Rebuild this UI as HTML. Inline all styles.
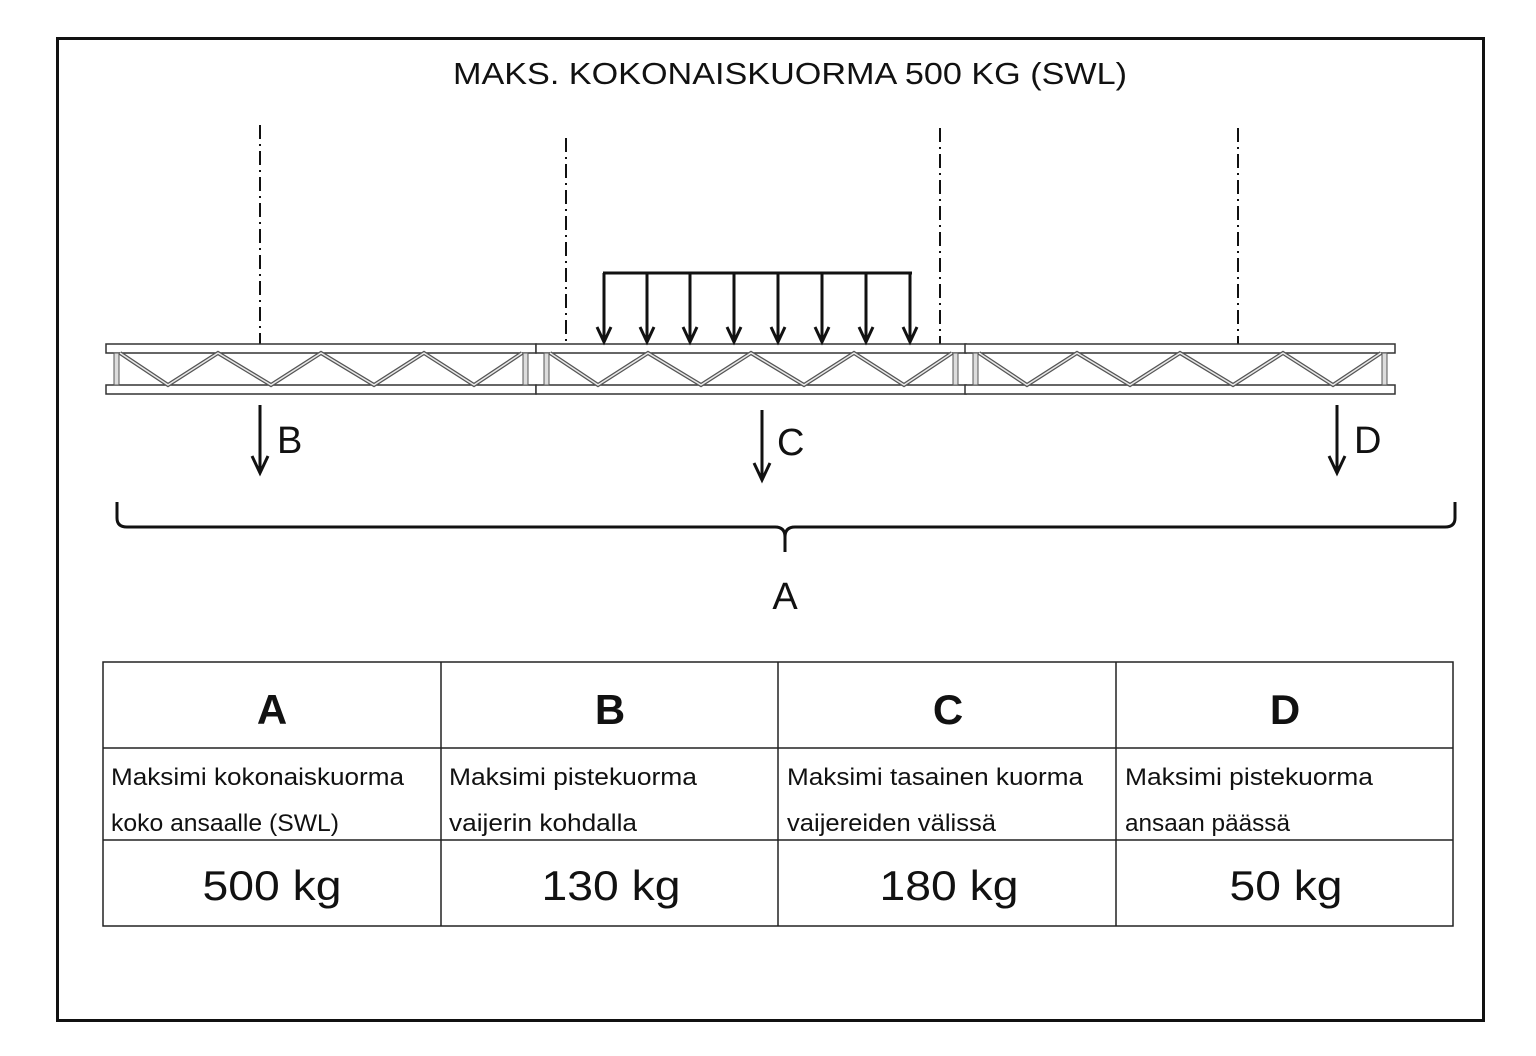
<!DOCTYPE html>
<html><head><meta charset="utf-8"><style>
html,body{margin:0;padding:0;background:#fff}
svg{display:block}
text{font-family:"Liberation Sans",sans-serif;fill:#111}
</style></head><body>
<svg width="1536" height="1056" viewBox="0 0 1536 1056" xmlns="http://www.w3.org/2000/svg">
<defs>
<g id="seg">
  <rect x="0" y="344" width="430" height="9" fill="#fff" stroke="#333" stroke-width="1.5"/>
  <rect x="0" y="385" width="430" height="9" fill="#fff" stroke="#333" stroke-width="1.5"/>
  <rect x="8" y="353" width="5" height="32" fill="#ddd" stroke="#555" stroke-width="1"/>
  <rect x="417" y="353" width="5" height="32" fill="#ddd" stroke="#555" stroke-width="1"/>
  <polyline points="14,353 62,385 112,353 165,385 215,353 268,385 318,353 368,385 416,353" fill="none" stroke="#555" stroke-width="4"/>
  <polyline points="14,353 62,385 112,353 165,385 215,353 268,385 318,353 368,385 416,353" fill="none" stroke="#e8e8e8" stroke-width="1.5"/>
</g>
</defs>
<rect x="57.5" y="38.5" width="1426" height="982" fill="none" stroke="#111" stroke-width="3"/>
<text x="790" y="84" font-size="31" text-anchor="middle" textLength="674" lengthAdjust="spacingAndGlyphs">MAKS. KOKONAISKUORMA 500 KG (SWL)</text>

<g stroke="#111" stroke-width="2" stroke-dasharray="14,5,2,5" fill="none">
  <line x1="260" y1="125" x2="260" y2="344"/>
  <line x1="566" y1="138" x2="566" y2="344"/>
  <line x1="940" y1="128" x2="940" y2="344"/>
  <line x1="1238" y1="128" x2="1238" y2="344"/>
</g>

<use href="#seg" x="106"/>
<use href="#seg" x="536"/>
<use href="#seg" x="965"/>

<g stroke="#111" stroke-width="3" fill="none">
  <line x1="603" y1="273" x2="912" y2="273"/>
  <line x1="604" y1="273" x2="604" y2="340"/><polyline points="597,327 604,342 611,327"/>
  <line x1="647" y1="273" x2="647" y2="340"/><polyline points="640,327 647,342 654,327"/>
  <line x1="690" y1="273" x2="690" y2="340"/><polyline points="683,327 690,342 697,327"/>
  <line x1="734" y1="273" x2="734" y2="340"/><polyline points="727,327 734,342 741,327"/>
  <line x1="778" y1="273" x2="778" y2="340"/><polyline points="771,327 778,342 785,327"/>
  <line x1="822" y1="273" x2="822" y2="340"/><polyline points="815,327 822,342 829,327"/>
  <line x1="866" y1="273" x2="866" y2="340"/><polyline points="859,327 866,342 873,327"/>
  <line x1="910" y1="273" x2="910" y2="340"/><polyline points="903,327 910,342 917,327"/>
</g>

<g stroke="#111" stroke-width="3" fill="none">
  <line x1="260" y1="405" x2="260" y2="471"/><polyline points="252,456 260,473 268,456"/>
  <line x1="762" y1="410" x2="762" y2="478"/><polyline points="754,463 762,480 770,463"/>
  <line x1="1337" y1="405" x2="1337" y2="471"/><polyline points="1329,456 1337,473 1345,456"/>
</g>
<text x="277" y="453" font-size="38">B</text>
<text x="777" y="455" font-size="38">C</text>
<text x="1354" y="453" font-size="38">D</text>

<path d="M117,502 L117,518 Q117,527 127,527 L775,527 Q785,527 785,537 L785,552 M785,537 Q785,527 795,527 L1445,527 Q1455,527 1455,518 L1455,502" fill="none" stroke="#111" stroke-width="3"/>
<text x="785" y="609" font-size="38" text-anchor="middle">A</text>

<g stroke="#222" stroke-width="1.5" fill="none">
  <rect x="103" y="662" width="1350" height="264"/>
  <line x1="103" y1="748" x2="1453" y2="748"/>
  <line x1="103" y1="840" x2="1453" y2="840"/>
  <line x1="441" y1="662" x2="441" y2="926"/>
  <line x1="778" y1="662" x2="778" y2="926"/>
  <line x1="1116" y1="662" x2="1116" y2="926"/>
</g>
<g font-size="42" font-weight="bold" text-anchor="middle">
  <text x="272" y="724">A</text>
  <text x="610" y="724">B</text>
  <text x="948" y="724">C</text>
  <text x="1285" y="724">D</text>
</g>
<g font-size="24">
  <text x="111" y="785" textLength="293" lengthAdjust="spacingAndGlyphs">Maksimi kokonaiskuorma</text>
  <text x="111" y="831" textLength="228" lengthAdjust="spacingAndGlyphs">koko ansaalle (SWL)</text>
  <text x="449" y="785" textLength="248" lengthAdjust="spacingAndGlyphs">Maksimi pistekuorma</text>
  <text x="449" y="831" textLength="188" lengthAdjust="spacingAndGlyphs">vaijerin kohdalla</text>
  <text x="787" y="785" textLength="296" lengthAdjust="spacingAndGlyphs">Maksimi tasainen kuorma</text>
  <text x="787" y="831" textLength="209" lengthAdjust="spacingAndGlyphs">vaijereiden välissä</text>
  <text x="1125" y="785" textLength="248" lengthAdjust="spacingAndGlyphs">Maksimi pistekuorma</text>
  <text x="1125" y="831" textLength="165" lengthAdjust="spacingAndGlyphs">ansaan päässä</text>
</g>
<g font-size="42" text-anchor="middle">
  <text x="272" y="900" textLength="139" lengthAdjust="spacingAndGlyphs">500 kg</text>
  <text x="611" y="900" textLength="139" lengthAdjust="spacingAndGlyphs">130 kg</text>
  <text x="949" y="900" textLength="139" lengthAdjust="spacingAndGlyphs">180 kg</text>
  <text x="1286" y="900" textLength="113" lengthAdjust="spacingAndGlyphs">50 kg</text>
</g>
</svg>
</body></html>
